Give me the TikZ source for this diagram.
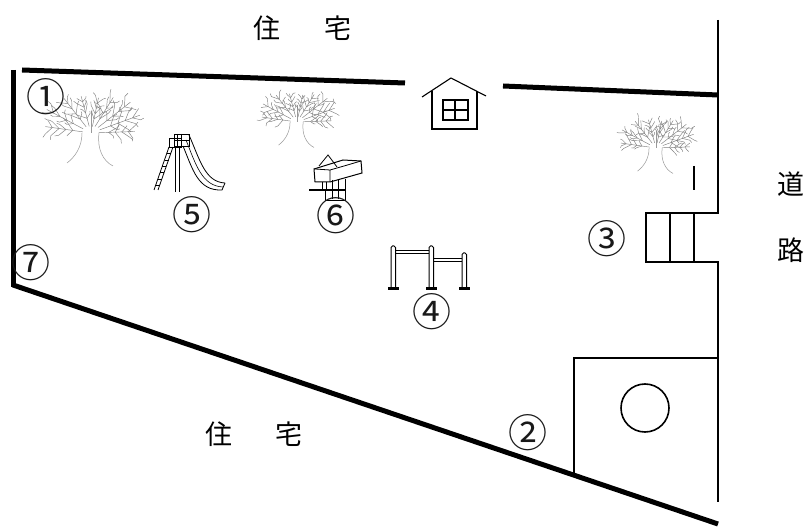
\documentclass[tikz,border=0pt]{standalone}
\usepackage{fontspec}
\usetikzlibrary{calc}
\newfontfamily\cjk{Noto Sans CJK JP}
\tikzset{
  wall/.style={line width=5pt,black},
  thin line/.style={line width=1.6pt,black},
  fine/.style={line width=.8pt,black},
  num/.style={font=\cjk\fontsize{39}{39}\selectfont,inner sep=0pt,text=black!90},
  lab/.style={font=\cjk\fontsize{27}{27}\selectfont,inner sep=0pt,text=black},
  twig/.style={line width=.45pt,black!50},
  bough/.style={line width=.5pt,black!40},
  treepic/.pic={
    \draw[bough] (-9,0) .. controls (-9,14) and (-16,24) .. (-24,30);
    \draw[bough] (8,0) .. controls (6,16) and (12,28) .. (22,33);
    \draw[bough] (0,-22) -- (0,0);
    \foreach \a/\l in {172/46,152/50,128/44,105/38,78/36,58/42,38/50,20/52,2/44}{
      \draw[twig] ({.18*\l*cos(\a)},{-.18*\l*sin(\a)}) -- ({\l*cos(\a)},{-\l*sin(\a)});
      \foreach \f in {.4,.55,.7,.85}{
        \foreach \s in {-1,1}{
          \pgfmathsetmacro{\ang}{\a+\s*(25+35*rnd)}
          \pgfmathsetmacro{\len}{\l*(.12+.14*rnd)}
          \pgfmathsetmacro{\fork}{\ang+\s*(-50+100*rnd)}
          \draw[twig] ({\f*\l*cos(\a)},{-\f*\l*sin(\a)}) -- ++({\len*cos(\ang)},{-\len*sin(\ang)}) -- ++({.4*\len*cos(\fork)},{-.4*\len*sin(\fork)});
        }
      }
    }
  }
}
\begin{document}
\begin{tikzpicture}[x=1pt,y=-1pt]
\pgfmathsetseed{11}
\useasboundingbox[fill=white] (0,0) rectangle (812,529);
% walls
\coordinate (tl) at (22,70);   \coordinate (tm) at (405,83);
\coordinate (tn) at (503,86);  \coordinate (tr) at (718,95);
\coordinate (ll) at (13,70);   \coordinate (lb) at (13,287);
\coordinate (bl) at (13,285);  \coordinate (br) at (718,524);
\draw[wall] (tl) -- (tm);
\draw[wall] (tn) -- (tr);
\draw[wall] (ll) -- (lb);
\draw[wall] (bl) -- (br);
% road edge and entrance
\draw[thin line] (718,20) -- (718,213) -- (646,213) -- (646,262) -- (718,262) -- (718,502);
\draw[thin line] (670,213) -- (670,262);
\draw[thin line] (694,213) -- (694,262);
\draw[thin line] (694,166) -- (694,190);
% square and circle
\draw[thin line] (718,358) -- (574,358) -- (574,475);
\draw[thin line] (645,408) circle (24);
% trees
\pic at (91,133) {treepic};
\pic[scale=.77] at (297,122) {treepic};
\pic[scale=.77] at (656,148) {treepic};
% house
\draw[line width=1.1pt] (422,97) -- (451,78) -- (486,96);
\draw[line width=1.1pt] (432,91) -- (432,129) -- (477,129) -- (477,91);
\draw[line width=1.1pt] (443,100) rectangle (468,120);
\draw[line width=1.1pt] (455,100) -- (455,120) (443,110) -- (468,110);
% slide
\draw[fine] (169,138) rectangle (181,147);
\draw[fine] (174,134) rectangle (189,146);
\draw[fine] (177,134) -- (177,146) (181,134) -- (181,146) (174,140) -- (189,140);
\draw[fine] (169,147) -- (154,190) (173,147) -- (158,190);
\foreach \t in {.15,.3,.45,.6,.75,.9}{
  \draw[line width=.6pt] ($(169,147)!\t!(154,190)$) -- ($(173,147)!\t!(158,190)$);
}
\draw[fine] (175,147) -- (175,192) (179,147) -- (179,192);
\draw[fine] (183,146) .. controls (193,170) and (198,191) .. (222,190) -- (225,183);
\draw[fine] (189,135) .. controls (200,160) and (205,182) .. (225,183);
\draw[line width=.6pt] (186,140) .. controls (196,165) and (202,186) .. (223,187);
% spring rider
\draw[line width=1pt] (314,169) -- (343,160) -- (361,161) -- (362,173) -- (330,182) -- (315,182) -- cycle;
\draw[line width=.8pt] (315,169) -- (330,170) -- (344,166) -- (361,161) (330,170) -- (330,182);
\draw[line width=.8pt] (319,166) -- (328,155) -- (337,167);
\draw[fine] (322,182) -- (322,190) (326,182) -- (326,190) (332,180) -- (332,199) (338,180) -- (338,199);
\draw[fine] (325,190) -- (325,200) -- (345,200) -- (345,179);
\draw[line width=2pt] (309,190) -- (345,190);
% horizontal bars
\foreach \x/\y in {391/246,429/246,462/253}{
  \draw[line width=1pt,rounded corners=1.5pt] (\x,288) -- (\x,\y) -- (\x+4.5,\y) -- (\x+4.5,288);
  \draw[line width=3pt] (\x-3,289) -- (\x+8,289);
}
\draw[line width=1pt] (395.5,251) -- (429,251) (395.5,253.5) -- (429,253.5);
\draw[line width=1pt] (433.5,259) -- (462,259) (433.5,262) -- (462,262);
% labels
\node[lab] (a1) at (267,28) {住};
\node[lab] (a2) at (338,28) {宅};
\node[lab] (b1) at (219,434) {住};
\node[lab] (b2) at (289,434) {宅};
\node[lab] (c1) at (791,184) {道};
\node[lab] (c2) at (791,250) {路};
\node[num] (n1) at (46,97) {①};
\node[num] (n2) at (528,433) {②};
\node[num] (n3) at (607,239) {③};
\node[num] (n4) at (432,312) {④};
\node[num] (n5) at (192,215) {⑤};
\node[num] (n6) at (336,216) {⑥};
\node[num] (n7) at (31,263) {⑦};
\end{tikzpicture}
\end{document}
